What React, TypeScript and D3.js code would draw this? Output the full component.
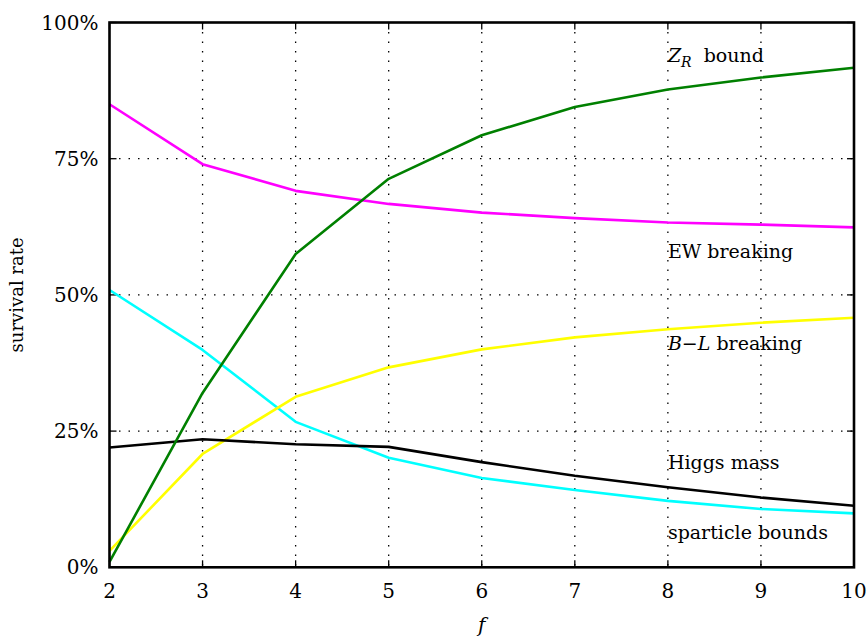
import { useEffect, useRef } from "react";
import * as d3 from "d3";

const fValues = [2, 3, 4, 5, 6, 7, 8, 9, 10];
const zrBound = [1, 32, 57.5, 71.3, 79.3, 84.5, 87.7, 89.9, 91.7];
const ewBreaking = [85.0, 74.0, 69.1, 66.7, 65.1, 64.1, 63.3, 62.9, 62.4];
const blBreaking = [3, 20.8, 31.3, 36.7, 40.0, 42.2, 43.7, 44.9, 45.8];
const sparticle = [50.9, 39.9, 26.7, 20.1, 16.4, 14.2, 12.2, 10.7, 9.9];
const higgs = [22.0, 23.5, 22.6, 22.1, 19.3, 16.8, 14.7, 12.8, 11.3];
const yTicks = [0, 25, 50, 75, 100];

const series = [
    { name: "sparticle", values: sparticle, color: "#00ffff" },
    { name: "blBreaking", values: blBreaking, color: "#ffff00" },
    { name: "higgs", values: higgs, color: "#000000" },
    { name: "ewBreaking", values: ewBreaking, color: "#ff00ff" },
    { name: "zrBound", values: zrBound, color: "#008000" },
];

const FONT = "DejaVu Serif";

const App = () => {
    const chartRef = useRef<SVGSVGElement>(null);

    useEffect(() => {
        const W = 867, H = 637;
        const left = 109.5, right = 854, top = 22.5, bottom = 567.3;
        const svg = d3.select(chartRef.current);
        svg.selectAll("*").remove();
        svg.attr("width", W).attr("height", H);

        const x = d3.scaleLinear().domain([2, 10]).range([left, right]);
        const y = d3.scaleLinear().domain([0, 100]).range([bottom, top]);

        // dotted grid
        const grid = svg.append("g");
        fValues.slice(1, -1).forEach(f => {
            grid.append("line")
                .attr("x1", x(f)).attr("x2", x(f))
                .attr("y1", top).attr("y2", bottom)
                .attr("stroke", "#000").attr("stroke-width", 1.3)
                .attr("stroke-dasharray", "1.5,8");
        });
        yTicks.slice(1, -1).forEach(t => {
            grid.append("line")
                .attr("x1", left).attr("x2", right)
                .attr("y1", y(t)).attr("y2", y(t))
                .attr("stroke", "#000").attr("stroke-width", 1.3)
                .attr("stroke-dasharray", "1.5,8");
        });

        // inward ticks on all sides
        const ticks = svg.append("g").attr("stroke", "#000").attr("stroke-width", 1.3);
        fValues.forEach(f => {
            ticks.append("line").attr("x1", x(f)).attr("x2", x(f)).attr("y1", bottom).attr("y2", bottom - 7);
            ticks.append("line").attr("x1", x(f)).attr("x2", x(f)).attr("y1", top).attr("y2", top + 7);
        });
        yTicks.forEach(t => {
            ticks.append("line").attr("x1", left).attr("x2", left + 7).attr("y1", y(t)).attr("y2", y(t));
            ticks.append("line").attr("x1", right).attr("x2", right - 7).attr("y1", y(t)).attr("y2", y(t));
        });

        // lines
        const line = d3.line<number>()
            .x((_, i) => x(fValues[i]))
            .y(d => y(d));
        series.forEach(s => {
            svg.append("path")
                .datum(s.values)
                .attr("d", line)
                .attr("fill", "none")
                .attr("stroke", s.color)
                .attr("stroke-width", 2.6)
                .attr("stroke-linejoin", "round");
        });

        // frame
        svg.append("rect")
            .attr("x", left).attr("y", top)
            .attr("width", right - left).attr("height", bottom - top)
            .attr("fill", "none").attr("stroke", "#000").attr("stroke-width", 2.6);

        // tick labels
        fValues.forEach(f => {
            svg.append("text")
                .attr("x", x(f)).attr("y", bottom + 31)
                .attr("text-anchor", "middle")
                .style("font-family", FONT).style("font-size", "20px")
                .text(f);
        });
        yTicks.forEach(t => {
            svg.append("text")
                .attr("x", left - 11).attr("y", y(t) + 7)
                .attr("text-anchor", "end")
                .style("font-family", FONT).style("font-size", "20px")
                .text(`${t}%`);
        });

        // axis titles
        svg.append("text")
            .attr("x", (left + right) / 2).attr("y", 632)
            .attr("text-anchor", "middle")
            .style("font-family", FONT).style("font-size", "20px").style("font-style", "italic")
            .text("f");
        svg.append("text")
            .attr("transform", `translate(23, ${(top + bottom) / 2}) rotate(-90)`)
            .attr("text-anchor", "middle")
            .style("font-family", FONT).style("font-size", "18px")
            .text("survival rate");

        // series labels
        const lx = x(8);
        const addLabel = (yy: number) => svg.append("text")
            .attr("x", lx).attr("y", y(yy))
            .style("font-family", FONT).style("font-size", "19px");

        const zr = addLabel(92.7);
        zr.append("tspan").style("font-style", "italic").text("Z");
        zr.append("tspan").attr("dy", 5).style("font-style", "italic").style("font-size", "14px").text("R");
        zr.append("tspan").attr("dy", -5).text("\u00a0\u00a0bound");

        addLabel(56.8).text("EW breaking");

        const bl = addLabel(39.9);
        bl.append("tspan").style("font-style", "italic").text("B");
        bl.append("tspan").text("\u2212");
        bl.append("tspan").style("font-style", "italic").text("L");
        bl.append("tspan").text(" breaking");

        addLabel(18.0).text("Higgs mass");
        addLabel(5.2).text("sparticle bounds");

        return () => {
            d3.select(chartRef.current).selectAll("*").remove();
        };
    }, []);

    return <svg ref={chartRef} style={{ position: "absolute", left: 0, top: 0 }}></svg>;
};

export default App;
